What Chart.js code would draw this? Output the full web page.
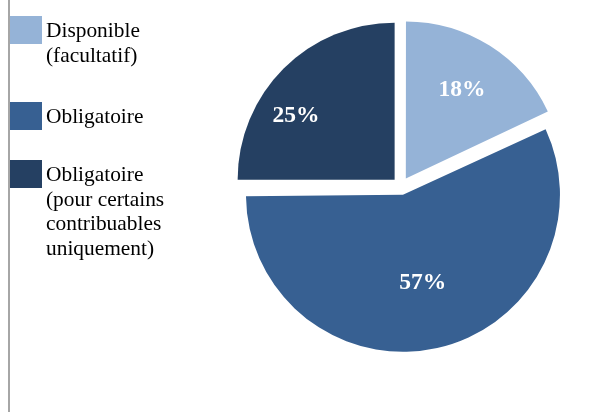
<!DOCTYPE html>
<html lang="fr">
<head>
<meta charset="utf-8">
<script src="https://cdn.jsdelivr.net/npm/chart.js@4.4.1/dist/chart.umd.min.js"></script>
<style>
  html, body { margin: 0; padding: 0; background: #fff; }
  #cadre { position: relative; width: 606px; height: 412px; overflow: hidden; }
  #trait { position: absolute; left: 8px; top: 0; width: 2px; height: 412px; background: #a6a6a6; }
  #graphique { position: absolute; left: 0; top: 0; }
  #legende { position: absolute; left: 0; top: 0; font-family: "Liberation Serif", "Times New Roman", serif; font-size: 21.4px; line-height: 24.5px; color: #000; }
  .item { position: absolute; left: 10px; }
  .carre { position: absolute; left: 0; top: 0; width: 32px; height: 28px; }
  .texte { position: absolute; left: 36px; top: 2px; white-space: nowrap; }
</style>
</head>
<body>
<div id="cadre">
  <div id="trait"></div>
  <canvas id="graphique" width="606" height="412"></canvas>
  <div id="legende"></div>
</div>
<script>
// Données
const categories = [
    ['Disponible', '(facultatif)'],
    ['Obligatoire'],
    ['Obligatoire', '(pour certains', 'contribuables', 'uniquement)']
];
const valeurs = [18, 57, 25];
const couleurs = ['#95b3d7', '#376092', '#254062'];

// mise en page de la légende (haut de chaque carré)
const hautsLegende = [16, 102, 160];

const decalage = 36; // Chart.js déplace chaque part de offset/4 -> 9px

// Chart.js agrandit les parts >= 180° quand elles sont décalées : on corrige
const pluginRayon = {
    id: 'pluginRayon',
    afterDatasetsUpdate(chart) {
        chart.getDatasetMeta(0).data.forEach(arc => {
            const fix = 1 - Math.sin(Math.min(Math.PI, arc.circumference));
            arc.outerRadius -= (decalage / 4) * fix;
        });
    }
};

// Étiquettes de pourcentage dans les parts
const pluginEtiquettes = {
    id: 'pluginEtiquettes',
    afterDatasetsDraw(chart, args, opts) {
        const ctx = chart.ctx;
        const meta = chart.getDatasetMeta(0);
        ctx.save();
        ctx.font = 'bold 23.5px "Liberation Serif", serif';
        ctx.fillStyle = '#ffffff';
        ctx.textAlign = 'center';
        ctx.textBaseline = 'middle';
        meta.data.forEach((arc, i) => {
            const mid = (arc.startAngle + arc.endAngle) / 2;
            const cx = arc.x + Math.cos(mid) * decalage / 4;
            const cy = arc.y + Math.sin(mid) * decalage / 4;
            const ang = mid + (opts.tourne[i] || 0) * Math.PI / 180;
            const r = arc.outerRadius * opts.rayon[i];
            ctx.fillText(valeurs[i] + '%', cx + Math.cos(ang) * r, cy + Math.sin(ang) * r);
        });
        ctx.restore();
    }
};

function construireLegende() {
    const legende = document.getElementById('legende');
    categories.forEach((lignes, i) => {
        const item = document.createElement('div');
        item.className = 'item';
        item.style.top = hautsLegende[i] + 'px';
        const carre = document.createElement('div');
        carre.className = 'carre';
        carre.style.background = couleurs[i];
        const texte = document.createElement('div');
        texte.className = 'texte';
        texte.innerHTML = lignes.join('<br>');
        item.appendChild(carre);
        item.appendChild(texte);
        legende.appendChild(item);
    });
}

new Chart(document.getElementById('graphique').getContext('2d'), {
    type: 'pie',
    data: {
        labels: categories,
        datasets: [{
            data: valeurs,
            backgroundColor: couleurs,
            borderWidth: 0,
            offset: decalage,
            hoverOffset: decalage
        }]
    },
    options: {
        responsive: false,
        animation: false,
        events: [],
        layout: { padding: { left: 225, right: 29, top: 11, bottom: 51 } },
        plugins: {
            legend: { display: false },
            tooltip: { enabled: false },
            pluginEtiquettes: { rayon: [0.67, 0.61, 0.75], tourne: [0, 0, -12] }
        }
    },
    plugins: [pluginRayon, pluginEtiquettes]
});

construireLegende();
</script>
</body>
</html>
